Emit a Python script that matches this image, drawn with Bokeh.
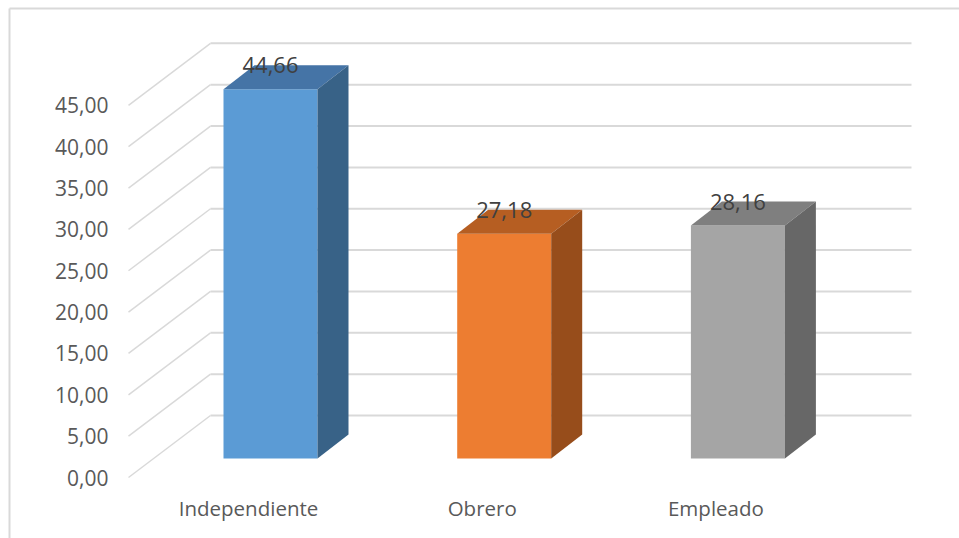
from bokeh.plotting import figure
from bokeh.models import Range1d
from bokeh.core.properties import value
from bokeh.embed import file_html
from bokeh.resources import INLINE

# ---- data ----
categories = ["Independiente", "Obrero", "Empleado"]
values = [44.66, 27.18, 28.16]
value_labels = ["44,66", "27,18", "28,16"]
tick_values = [0, 5, 10, 15, 20, 25, 30, 35, 40, 45]
tick_labels = ["0,00", "5,00", "10,00", "15,00", "20,00", "25,00", "30,00", "35,00", "40,00", "45,00"]

front_colors = ["#5B9BD5", "#ED7D31", "#A5A5A5"]
top_colors = ["#4574A6", "#B65E22", "#7F7F7F"]
side_colors = ["#386287", "#974D1B", "#676767"]

W, H = 959, 538
PX_X = 233.7   # pixels per category step
PX_Y = 8.27    # pixels per value unit
X0_PX = 270.0  # pixel of first category centre
Y0_PX = 458.0  # pixel of value 0 on bar front plane

x_start = -X0_PX / PX_X
x_end = (W - X0_PX) / PX_X
y_start = -(H - Y0_PX) / PX_Y
y_end = Y0_PX / PX_Y

def px_to_x(px):
    return (px - X0_PX) / PX_X

def py_to_y(py):
    return (Y0_PX - py) / PX_Y

half = 47 / PX_X
depth_x = 31 / PX_X
depth_y = 24 / PX_Y
back_off = py_to_y(415)
front_off = py_to_y(477)
wall_left = px_to_x(210)
wall_right = px_to_x(911)
front_left = px_to_x(128)

p = figure(width=W, height=H, output_backend="svg", toolbar_location=None,
           x_range=Range1d(x_start, x_end), y_range=Range1d(y_start, y_end),
           min_border=0, min_border_left=0, min_border_right=0,
           min_border_top=0, min_border_bottom=0)
p.axis.visible = False
p.grid.visible = False
p.outline_line_color = None
p.background_fill_color = "white"
p.border_fill_color = "white"

grid_color = "#D9D9D9"

# chart-area border (top and left edges visible)
p.segment(x0=[px_to_x(9), px_to_x(9)], y0=[py_to_y(8), py_to_y(8)],
          x1=[px_to_x(959), px_to_x(9)], y1=[py_to_y(8), py_to_y(538)],
          line_color=grid_color, line_width=2)

# back wall gridlines
p.segment(x0=[wall_left] * len(tick_values), y0=[t + back_off for t in tick_values],
          x1=[wall_right] * len(tick_values), y1=[t + back_off for t in tick_values],
          line_color=grid_color, line_width=2)
# side wall diagonals
p.segment(x0=[front_left] * len(tick_values), y0=[t + front_off for t in tick_values],
          x1=[wall_left] * len(tick_values), y1=[t + back_off for t in tick_values],
          line_color=grid_color, line_width=1.5)

# 3D bars
xs_idx = list(range(len(categories)))
p.quad(left=[i - half for i in xs_idx], right=[i + half for i in xs_idx],
       bottom=[0] * len(values), top=values, fill_color=front_colors,
       line_color=None)
p.patches(xs=[[i - half, i + half, i + half + depth_x, i - half + depth_x] for i in xs_idx],
          ys=[[v, v, v + depth_y, v + depth_y] for v in values],
          fill_color=top_colors, line_color=None)
p.patches(xs=[[i + half, i + half + depth_x, i + half + depth_x, i + half] for i in xs_idx],
          ys=[[0, depth_y, v + depth_y, v] for v in values],
          fill_color=side_colors, line_color=None)

# data labels
p.text(x=xs_idx, y=[v + depth_y for v in values], text=value_labels,
       text_font=value("Open Sans"), text_font_size="22px", text_color="#404040",
       text_align="center", text_baseline="middle")

# y tick labels
p.text(x=[px_to_x(108)] * len(tick_values), y=[t + front_off for t in tick_values],
       text=tick_labels, text_font=value("Open Sans"), text_font_size="21px",
       text_color="#595959", text_align="right", text_baseline="middle")

# category labels
p.text(x=[i - 22 / PX_X for i in xs_idx], y=[py_to_y(507)] * len(categories),
       text=categories, text_font=value("Open Sans"), text_font_size="20.5px",
       text_color="#595959", text_align="center", text_baseline="middle")

open("out.html", "w").write(file_html(p, INLINE))
